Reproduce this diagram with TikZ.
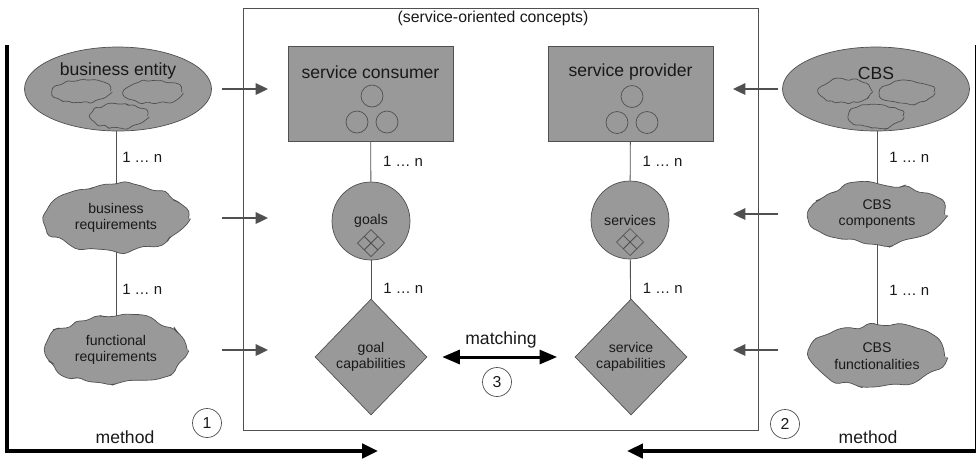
\documentclass[tikz,border=0pt]{standalone}
\usepackage{fontspec}
\setmainfont{Liberation Sans}
\usetikzlibrary{shapes.geometric, arrows.meta, decorations.pathmorphing}
\definecolor{shapefill}{RGB}{153,153,153}
\definecolor{edgegray}{RGB}{80,80,80}
\definecolor{inkgray}{RGB}{25,25,25}

\begin{document}
\begin{tikzpicture}[x=0.02cm, y=-0.02cm, text=inkgray,
entity/.style = {ellipse, draw=edgegray, fill=shapefill, minimum width=3.74cm, minimum height=1.68cm},
blob/.style = {ellipse, draw=edgegray, fill=shapefill, inner sep=0pt, align=center,
  font=\fontsize{8}{9.5}\selectfont, decorate,
  decoration={random steps, segment length=5.5pt, amplitude=2.1pt}, rounded corners=2.5pt},
puff/.style = {blob, fill=none, minimum width=1.15cm, minimum height=0.46cm,
  decoration={random steps, segment length=2.6pt, amplitude=1.1pt}, rounded corners=0.9pt},
role/.style = {rectangle, draw=edgegray, fill=shapefill, minimum width=3.3cm, minimum height=1.9cm},
concept/.style = {circle, draw=edgegray, fill=shapefill, minimum size=1.56cm, inner sep=0pt,
  font=\fontsize{8}{9.5}\selectfont},
capdia/.style = {diamond, draw=edgegray, fill=shapefill, minimum width=2.24cm, minimum height=2.32cm,
  inner sep=0pt, align=center, font=\fontsize{8}{9.5}\selectfont},
title/.style = {font=\fontsize{10}{12}\selectfont},
link/.style = {draw=edgegray, line width=0.5pt},
mult/.style = {right, font=\fontsize{8.5}{10}\selectfont, xshift=3.5pt},
feed/.style = {draw=edgegray, line width=1.1pt, -{Triangle[length=7pt, width=6.5pt]}},
method/.style = {line width=2.5pt, -{Triangle[length=9pt, width=8pt]}},
match/.style = {line width=1.7pt, {Triangle[length=10pt, width=8pt]}-{Triangle[length=10pt, width=8pt]}},
num/.style = {circle, draw=edgegray, minimum size=0.58cm, inner sep=0pt, font=\fontsize{9}{10}\selectfont}]
\pgfmathsetseed{11}
\useasboundingbox (0,0) rectangle (976,458);

% service-oriented concepts
\node[draw=edgegray, minimum width=10.3cm, minimum height=8.44cm] at (500.5,219) (soc) {};
\node[font=\fontsize{9}{11}\selectfont] at (493,18) (soc-t) {(service-oriented concepts)};

\node[role] at (370.5,93.5) (sc) {};
\node[title] at (370.5,72) (sc-t) {service consumer};
\node[role] at (630.5,94) (sp) {};
\node[title] at (630.5,72) (sp-t) {service provider};
\foreach \n in {sc, sp}
  \foreach \dx/\dy in {1.5/2.5, -13.5/28.5, 16.5/28.5}
    \draw[edgegray, shift={(\n)}] (\dx,\dy) circle[radius=0.22cm];

\node[concept] at (371,221) (gl) {goals\\[13pt]};
\node[concept] at (630,220) (sv) {services\\[13pt]};
\foreach \n in {gl, sv}
  \foreach \dx/\dy in {0/-6.75, -6.75/0, 6.75/0, 0/6.75}
    \draw[edgegray, shift={(\n)}, shift={(\dx,22+\dy)}] (0,-6.75) -- (6.75,0) -- (0,6.75) -- (-6.75,0) -- cycle;

\node[capdia] at (371,357) (gc) {goal\\capabilities};
\node[capdia] at (631,357) (scp) {service\\capabilities};

\draw[link] (sc) -- node[mult] {1 … n} (gl);
\draw[link] (gl) -- node[mult, yshift=-5pt] {1 … n} (gc);
\draw[link] (sp) -- node[mult] {1 … n} (sv);
\draw[link] (sv) -- node[mult, yshift=-5pt] {1 … n} (scp);

\draw[match, shorten <=8.5pt, shorten >=10pt] (gc) -- node[above=1pt, title] (mt) {matching} (scp);
\node[num] at (497,382) (n3) {3};

% business side
\node[entity] at (118,89) (be) {};
\node[title] at (118,71) (be-t) {business entity};
\node[puff] at (82,91) (be-p1) {};
\node[puff] at (153,92) (be-p2) {};
\node[puff] at (119,116) (be-p3) {};
\node[blob, minimum width=2.9cm, minimum height=1.34cm] at (116,218) (br) {business\\requirements};
\node[blob, minimum width=2.85cm, minimum height=1.34cm] at (116,350) (fr) {functional\\requirements};
\draw[link] (be.south -| br) -- node[mult, xshift=-3.5pt] {1 … n} (br);
\draw[link] (br) -- node[mult, xshift=-3.5pt, yshift=-3pt] {1 … n} (fr);

% CBS side
\node[entity] at (876,89) (cbs) {};
\node[title] at (876,73) (cbs-t) {CBS};
\node[puff, minimum width=1.08cm] at (845,91) (cbs-p1) {};
\node[puff, minimum width=1.08cm] at (907,92) (cbs-p2) {};
\node[puff, minimum width=1.08cm] at (876,116) (cbs-p3) {};
\node[blob, minimum width=2.7cm, minimum height=1.2cm] at (877,214) (cc) {CBS\\components};
\node[blob, minimum width=2.7cm, minimum height=1.22cm] at (877,356) (cf) {CBS\\functionalities};
\draw[link] (cbs.south -| cc) -- node[mult] {1 … n} (cc);
\draw[link] (cc) -- node[mult, yshift=-3pt] {1 … n} (cf);

% mappings into the concepts
\coordinate (lin) at (222,0);
\coordinate (lout) at (268,0);
\coordinate (rin) at (778,0);
\coordinate (rout) at (733,0);
\foreach \n in {be, br} \draw[feed] (\n -| lin) -- (\n -| lout);
\draw[feed] (lin |- 0,350) -- (lout |- 0,350);
\foreach \n in {cbs, cc} \draw[feed] (\n -| rin) -- (\n -| rout);
\draw[feed] (rin |- 0,350) -- (rout |- 0,350);

% methods
\draw[method] (7,45) |- (378,451);
\draw[method] (977.5,45) |- (627,451);
\node[title] at (125,437) (m1) {method};
\node[title] at (868,437) (m2) {method};
\node[num] at (207,423) (n1) {1};
\node[num] at (785,424) (n2) {2};
\end{tikzpicture}
\end{document}
